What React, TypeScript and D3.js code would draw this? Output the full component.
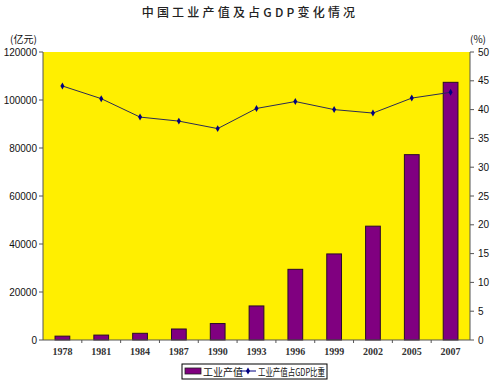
import React from "react";
import * as d3 from "d3";

const years = ["1978", "1981", "1984", "1987", "1990", "1993", "1996", "1999", "2002", "2005", "2007"];
const output = [1607, 2048, 2789, 4586, 6858, 14188, 29447, 35861, 47431, 77231, 107367];
const share = [44.1, 41.9, 38.7, 38.0, 36.7, 40.2, 41.4, 40.0, 39.4, 42.0, 43.0];
const leftTicks = [0, 20000, 40000, 60000, 80000, 100000, 120000];
const rightTicks = [0, 5, 10, 15, 20, 25, 30, 35, 40, 45, 50];
const title = "中国工业产值及占GDP变化情况";
const leftUnit = "(亿元)";
const rightUnit = "(%)";
const legendBar = "工业产值";
const legendLine = "工业产值占GDP比重";

const W = 500, H = 383;
const L = 43, R = 470, T = 52, B = 340;

export default function App() {
  const x = d3.scaleBand<string>().domain(years).range([L, R]).padding(0);
  const yL = d3.scaleLinear().domain([0, 120000]).range([B, T]);
  const yR = d3.scaleLinear().domain([0, 50]).range([B, T]);
  const bw = x.bandwidth() * 0.38;
  const line = d3.line<number>()
    .x((_, i) => (x(years[i]) as number) + x.bandwidth() / 2)
    .y((d) => yR(d));
  const diamond = d3.symbol().type(d3.symbolDiamond).size(14)() as string;
  const axisColor = "#555";
  return (
    <svg width={W} height={H} style={{ position: "absolute", left: 0, top: 0, background: "#fff" }}>
      <text x={250} y={17} textAnchor="middle" fontFamily="'Noto Sans CJK SC'" fontSize={12} fontWeight={500} letterSpacing={3.2} fill="#222">{title}</text>
      <rect x={L} y={T} width={R - L} height={B - T} fill="#FFEF00" />
      {output.map((v, i) => (
        <rect key={years[i]} x={(x(years[i]) as number) + (x.bandwidth() - bw) / 2} y={yL(v)} width={bw} height={B - yL(v)} fill="#800080" stroke="#2a0a2a" strokeWidth={1} />
      ))}
      <path d={line(share) as string} fill="none" stroke="#2b2b55" strokeWidth={1} />
      {share.map((v, i) => (
        <path key={i} d={diamond} transform={`translate(${(x(years[i]) as number) + x.bandwidth() / 2},${yR(v)})`} fill="#000080" />
      ))}
      <line x1={L} x2={L} y1={T} y2={B} stroke={axisColor} />
      <line x1={R} x2={R} y1={T} y2={B} stroke={axisColor} />
      <line x1={L} x2={R} y1={B} y2={B} stroke={axisColor} />
      {leftTicks.map((t) => (
        <g key={t}>
          <line x1={L - 4} x2={L} y1={yL(t)} y2={yL(t)} stroke={axisColor} />
          <text x={37} y={yL(t) + 3.5} textAnchor="end" fontFamily="'Liberation Sans', Arial" fontSize={10} fill="#111">{t}</text>
        </g>
      ))}
      {rightTicks.map((t) => (
        <g key={t}>
          <line x1={R} x2={R + 4} y1={yR(t)} y2={yR(t)} stroke={axisColor} />
          <text x={478} y={yR(t) + 3.5} textAnchor="start" fontFamily="'Liberation Sans', Arial" fontSize={10} fill="#111">{t}</text>
        </g>
      ))}
      {years.map((yv, i) => (
        <g key={yv}>
          {i > 0 && <line x1={x(yv) as number} x2={x(yv) as number} y1={B} y2={B + 3} stroke={axisColor} />}
          <text x={(x(yv) as number) + x.bandwidth() / 2} y={355} textAnchor="middle" fontFamily="'Liberation Serif', serif" fontSize={10} fontWeight="bold" fill="#333">{yv}</text>
        </g>
      ))}
      <text x={10} y={43} fontFamily="'Noto Sans CJK SC'" fontSize={10} fill="#111">{leftUnit}</text>
      <text x={470} y={43} fontFamily="'Noto Sans CJK SC'" fontSize={10} fill="#111">{rightUnit}</text>
      <rect x={182} y={364} width={145} height={15} fill="#fff" stroke="#000" strokeWidth={1} />
      <rect x={185} y={368} width={16} height={6} fill="#800080" stroke="#222" strokeWidth={0.8} />
      <text x={203} y={375.5} fontFamily="'Noto Sans CJK SC'" fontSize={10} fill="#111">{legendBar}</text>
      <line x1={240} x2={256} y1={371} y2={371} stroke="#000080" />
      <path d={diamond} transform="translate(248,371)" fill="#000080" />
      <text x={258} y={375.5} fontFamily="'Noto Sans CJK SC'" fontSize={10} fill="#111" textLength={67} lengthAdjust="spacingAndGlyphs">{legendLine}</text>
    </svg>
  );
}
